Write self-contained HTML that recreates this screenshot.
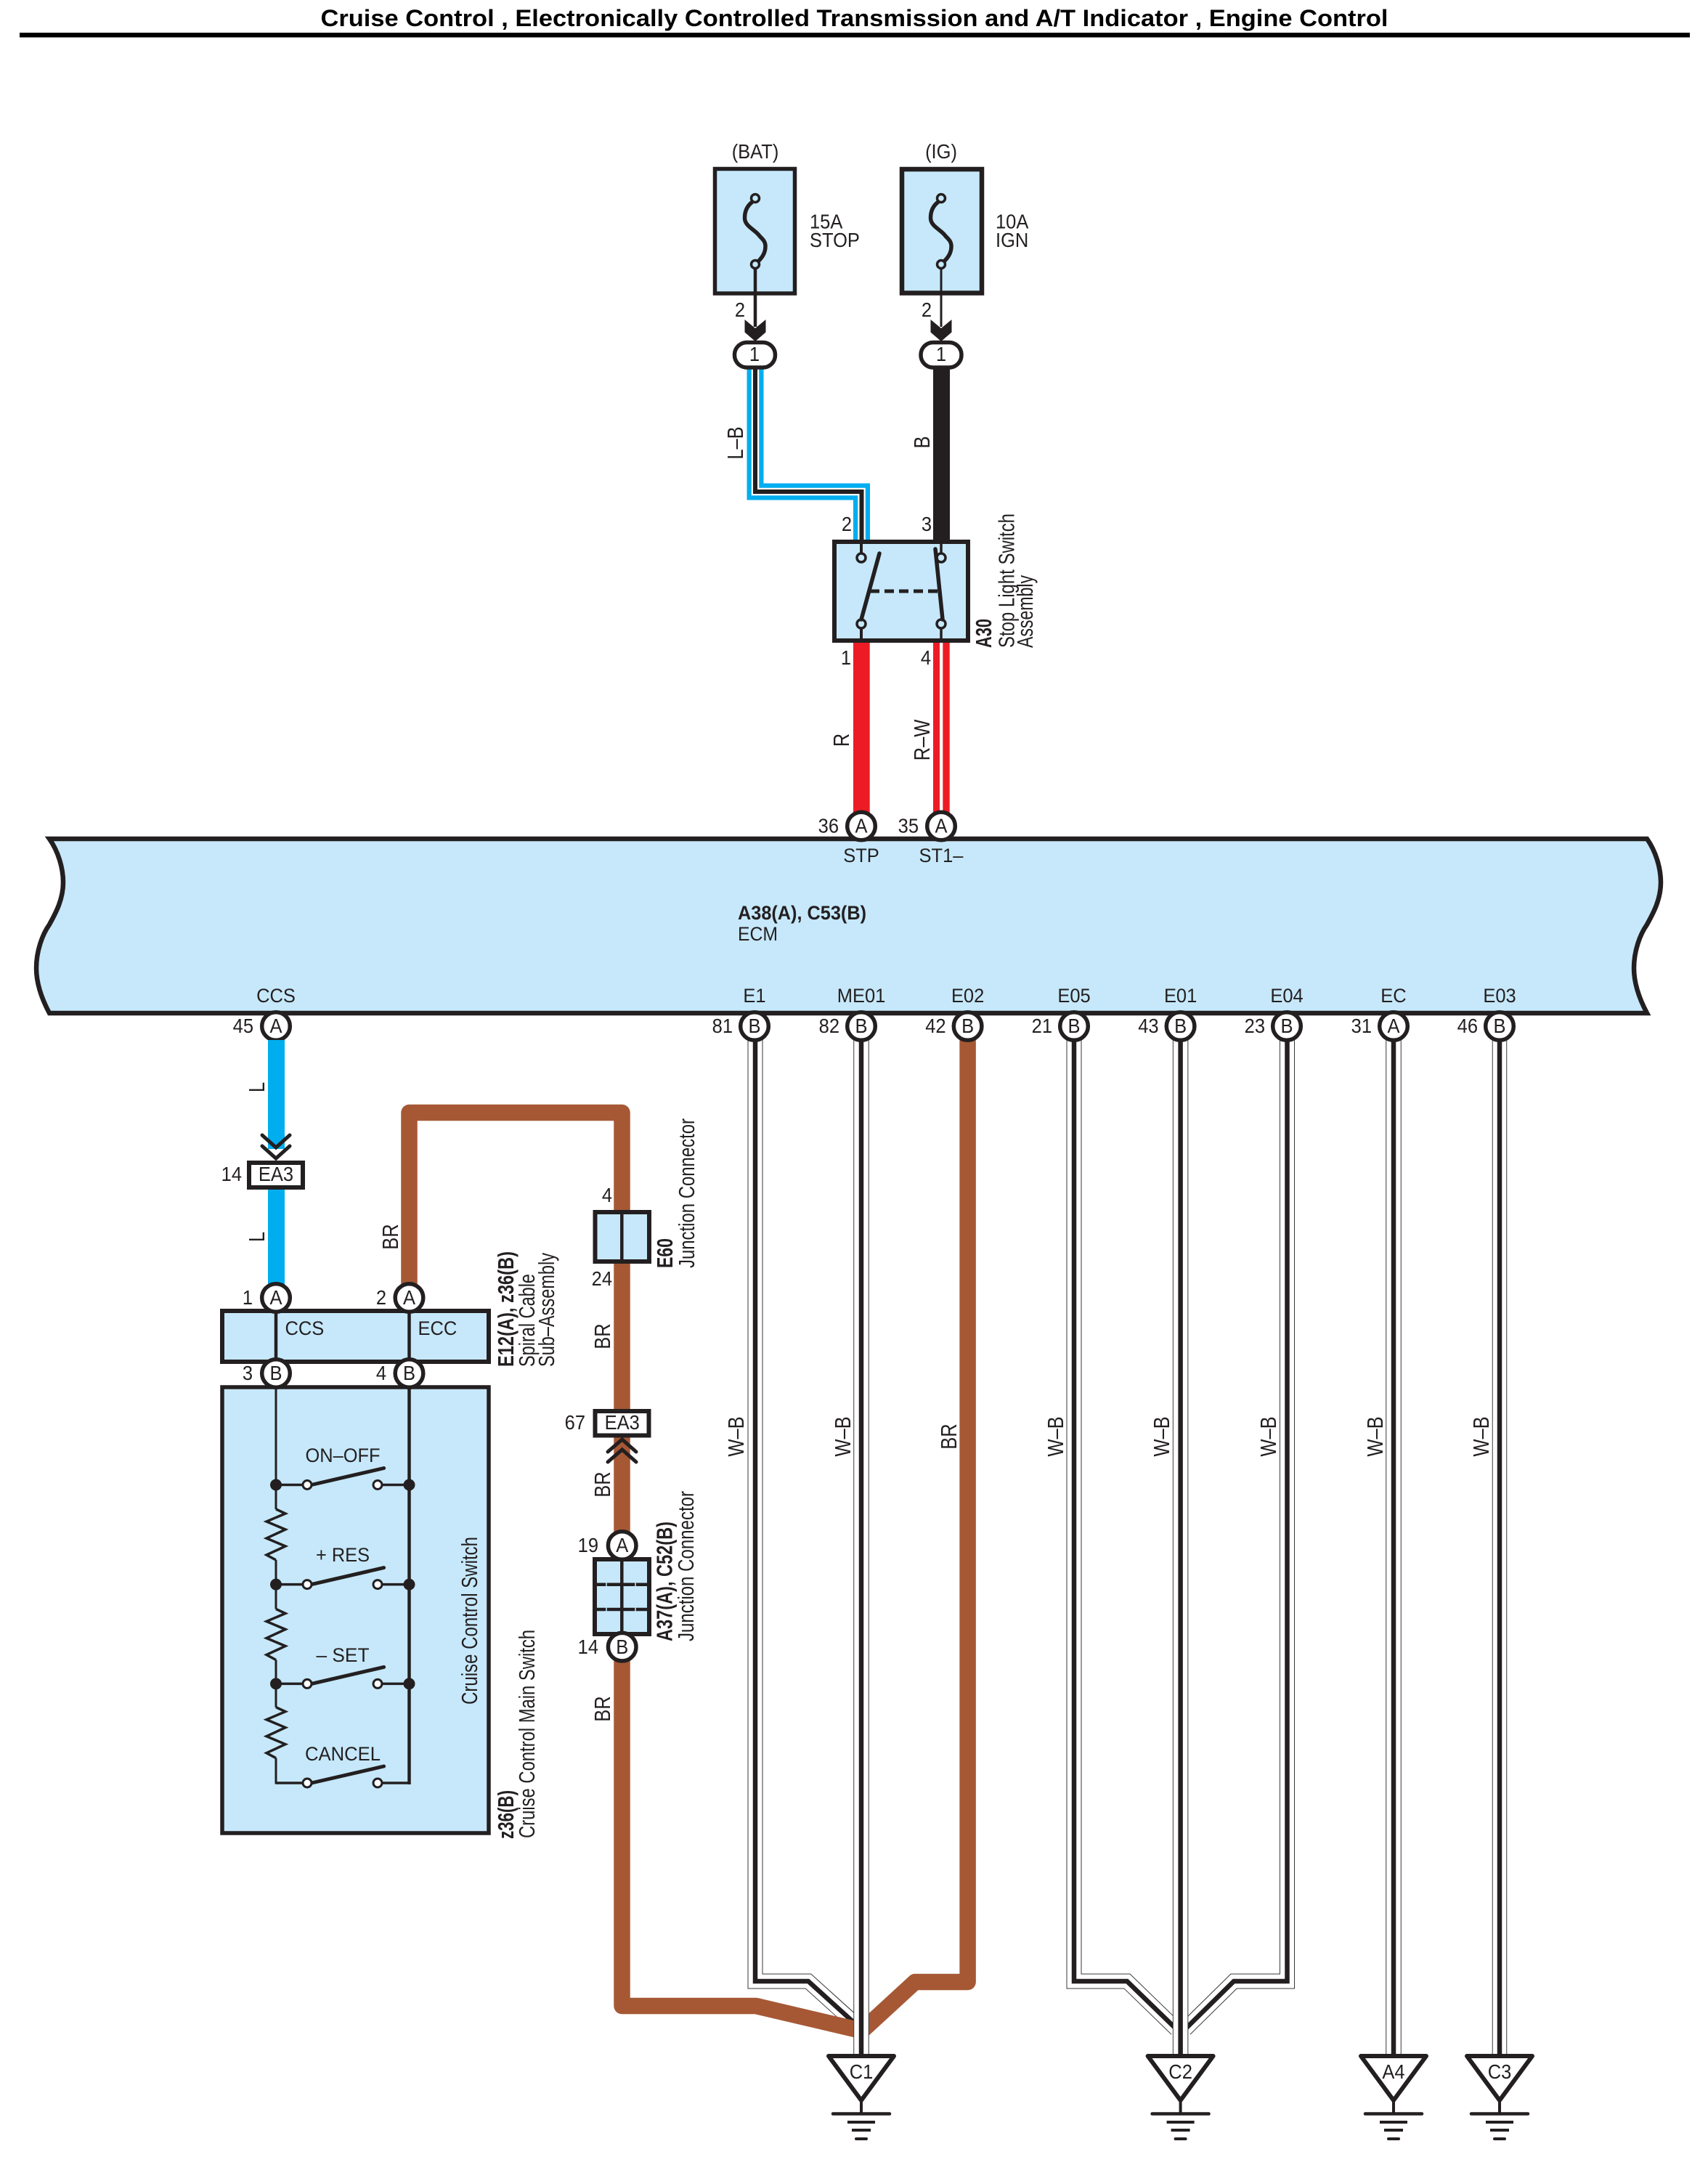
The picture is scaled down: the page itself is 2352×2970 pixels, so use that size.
<!DOCTYPE html>
<html>
<head>
<meta charset="utf-8">
<style>
html,body{margin:0;padding:0;background:#fff}
svg{display:block}
text{font-family:"Liberation Sans",sans-serif;font-size:25.5px;fill:#231f20}
.m{text-anchor:middle}
.e{text-anchor:end}
.b{font-weight:bold}
</style>
</head>
<body>
<svg xmlns="http://www.w3.org/2000/svg" width="2352" height="2970" viewBox="0 0 2352 2970">
<defs>
<g id="gnd" fill="none" stroke="#231f20">
<path d="M-45,2831 H45 L0,2892 Z" fill="#fff" stroke-width="6" stroke-linejoin="round"/>
<path d="M0,2893 V2910" stroke-width="4"/>
<path d="M-39,2910.5 H39" stroke-width="4.5" stroke-linecap="round"/>
<path d="M-19,2922 H19" stroke-width="4"/>
<path d="M-13,2933 H13" stroke-width="4"/>
<path d="M-7,2945 H7" stroke-width="4" stroke-linecap="round"/>
</g>
<g id="res"><polyline points="380,0 393,6 367,17 393,28 367,40 393,51 367,63 380,70" fill="none" stroke="#231f20" stroke-width="3.5"/></g>
<g id="sw">
<path d="M380,0 H417 M526,0 H563" stroke="#231f20" stroke-width="3.5" fill="none"/>
<path d="M429,0 L528.6,-23" stroke="#231f20" stroke-width="5" fill="none" stroke-linecap="round"/>
<circle cx="423" cy="0" r="6" fill="#fff" stroke="#231f20" stroke-width="3"/>
<circle cx="520" cy="0" r="6" fill="#fff" stroke="#231f20" stroke-width="3"/>
</g>
<g id="fuse">
<path d="M0,278 C-8,284 -10.5,292 -10.5,300 C-10.5,312 4,316 10,325 C15,330 18,333 18,339 C18,348 14,354 8,360" fill="none" stroke="#231f20" stroke-width="5.5" transform="translate(-4,0)"/>
<circle cx="0" cy="273" r="5.5" fill="#c6e8fa" stroke="#231f20" stroke-width="3.5"/>
<circle cx="0" cy="364" r="5.5" fill="#c6e8fa" stroke="#231f20" stroke-width="3.5"/>
</g>
<g id="chev"><path d="M-14.5,440 L0,452 L14.5,440 V457.5 L0,470 L-14.5,457.5 Z" fill="#231f20"/></g>
</defs>

<!-- Title -->
<text x="441.5" y="36" class="b" style="font-size:32px;fill:#000" textLength="1470" lengthAdjust="spacingAndGlyphs">Cruise Control , Electronically Controlled Transmission and A/T Indicator , Engine Control</text>
<rect x="27" y="45" width="2300" height="6.5" fill="#000"/>

<!-- Fuses -->
<text transform="translate(1040,218) scale(1,1.08)" class="m">(BAT)</text>
<text transform="translate(1296,218) scale(1,1.08)" class="m">(IG)</text>
<rect x="984.5" y="232.5" width="110" height="171.5" fill="#c6e8fa" stroke="#231f20" stroke-width="5.5"/>
<rect x="1242" y="233" width="110" height="170.5" fill="#c6e8fa" stroke="#231f20" stroke-width="6.5"/>
<path d="M1040,364 V450" stroke="#231f20" stroke-width="4.5"/>
<path d="M1296,364 V450" stroke="#231f20" stroke-width="3"/>
<use href="#fuse" x="1040"/>
<use href="#fuse" x="1296"/>
<text transform="translate(1115,314.5) scale(1,1.08)">15A</text>
<text transform="translate(1115,340) scale(1,1.08)">STOP</text>
<text transform="translate(1371,314.5) scale(1,1.08)">10A</text>
<text transform="translate(1371,340) scale(1,1.08)">IGN</text>
<text transform="translate(1019,436) scale(1,1.08)" class="m">2</text>
<text transform="translate(1276,436) scale(1,1.08)" class="m">2</text>
<use href="#chev" x="1040"/>
<use href="#chev" x="1296"/>

<!-- L-B wire -->
<path d="M1040,506 V677 H1186.5 V746" fill="none" stroke="#00aeef" stroke-width="23"/>
<path d="M1040,506 V677 H1186.5 V746" fill="none" stroke="#fff" stroke-width="10.5"/>
<path d="M1040,506 V677 H1186.5 V746" fill="none" stroke="#231f20" stroke-width="6"/>
<!-- B wire -->
<rect x="1285" y="506" width="23" height="240" fill="#231f20"/>
<rect x="1011.5" y="471.5" width="56" height="34.5" rx="17" fill="#fff" stroke="#231f20" stroke-width="5.5"/>
<rect x="1268" y="471.5" width="56" height="34.5" rx="17" fill="#fff" stroke="#231f20" stroke-width="5.5"/>
<text transform="translate(1039,497) scale(1,1.08)" class="m">1</text>
<text transform="translate(1296,497) scale(1,1.08)" class="m">1</text>
<text transform="translate(1023,610) rotate(-90) scale(1,1.2)" class="m">L–B</text>
<text transform="translate(1280,609) rotate(-90) scale(1,1.2)" class="m">B</text>
<text transform="translate(1166,731) scale(1,1.08)" class="m">2</text>
<text transform="translate(1276,731) scale(1,1.08)" class="m">3</text>

<!-- Red wires -->
<rect x="1175" y="884" width="22.7" height="236" fill="#ed1c24"/>
<rect x="1285" y="884" width="22.7" height="236" fill="#ed1c24"/>
<rect x="1294" y="884" width="4.3" height="236" fill="#fff"/>

<!-- Stop light switch -->
<rect x="1149" y="746" width="184" height="136" fill="#c6e8fa" stroke="#231f20" stroke-width="6"/>
<path d="M1186,743 V762 M1186,866 V885" stroke="#231f20" stroke-width="4" fill="none"/>
<path d="M1296,743 V762 M1296,866 V885" stroke="#231f20" stroke-width="3.5" fill="none"/>
<circle cx="1186" cy="768" r="6" fill="#c6e8fa" stroke="#231f20" stroke-width="3.5"/>
<circle cx="1296" cy="768" r="6" fill="#c6e8fa" stroke="#231f20" stroke-width="3.5"/>
<circle cx="1186" cy="859" r="6" fill="#c6e8fa" stroke="#231f20" stroke-width="3.5"/>
<circle cx="1296" cy="859" r="6" fill="#c6e8fa" stroke="#231f20" stroke-width="3.5"/>
<path d="M1186,853 L1211,762" stroke="#231f20" stroke-width="5.5" stroke-linecap="round" fill="none"/>
<path d="M1298,853 L1288,756" stroke="#231f20" stroke-width="5.5" stroke-linecap="round" fill="none"/>
<path d="M1198,814 H1291" stroke="#231f20" stroke-width="5" stroke-dasharray="13,7" fill="none"/>
<text transform="translate(1365,892) rotate(-90) scale(1,1.2)" class="b" textLength="40" lengthAdjust="spacingAndGlyphs">A30</text>
<text transform="translate(1396.5,892) rotate(-90) scale(1,1.2)" textLength="185" lengthAdjust="spacingAndGlyphs">Stop Light Switch</text>
<text transform="translate(1422,892) rotate(-90) scale(1,1.2)" textLength="100" lengthAdjust="spacingAndGlyphs">Assembly</text>
<text transform="translate(1165,915) scale(1,1.08)" class="m">1</text>
<text transform="translate(1275,915) scale(1,1.08)" class="m">4</text>
<text transform="translate(1169,1019) rotate(-90) scale(1,1.2)" class="m">R</text>
<text transform="translate(1280,1019) rotate(-90) scale(1,1.2)" class="m">R–W</text>

<!-- ECM -->
<path d="M68,1155 H2268 C2280,1172 2287,1195 2287,1215 C2287,1240 2275,1260 2268,1273 C2258,1287 2250,1310 2250,1333 C2250,1358 2260,1380 2268,1395 H68 C60,1380 50,1358 50,1333 C50,1310 58,1287 68,1273 C75,1260 87,1240 87,1215 C87,1195 80,1172 68,1155 Z" fill="#c6e8fa" stroke="#231f20" stroke-width="6.5" stroke-linejoin="miter"/>
<text transform="translate(1016,1266) scale(1,1.05)" class="b" textLength="177" lengthAdjust="spacingAndGlyphs">A38(A), C53(B)</text>
<text transform="translate(1016,1295) scale(1,1.05)" textLength="55" lengthAdjust="spacingAndGlyphs">ECM</text>
<text transform="translate(1186,1187) scale(1,1.05)" class="m">STP</text>
<text transform="translate(1296,1187) scale(1,1.05)" class="m">ST1–</text>
<text transform="translate(380,1380) scale(1,1.05)" class="m">CCS</text>
<text transform="translate(1039,1380) scale(1,1.05)" class="m">E1</text>
<text transform="translate(1186,1380) scale(1,1.05)" class="m">ME01</text>
<text transform="translate(1332.6,1380) scale(1,1.05)" class="m">E02</text>
<text transform="translate(1479,1380) scale(1,1.05)" class="m">E05</text>
<text transform="translate(1625.6,1380) scale(1,1.05)" class="m">E01</text>
<text transform="translate(1772,1380) scale(1,1.05)" class="m">E04</text>
<text transform="translate(1919,1380) scale(1,1.05)" class="m">EC</text>
<text transform="translate(2065,1380) scale(1,1.05)" class="m">E03</text>

<!-- Ground wires (under brown) -->
<g fill="none" stroke-linejoin="miter">
<path d="M1040,1420 V2728 H1113 L1174,2783" stroke="#3a3a3a" stroke-width="21"/>
<path d="M1040,1420 V2728 H1113 L1176,2785" stroke="#fff" stroke-width="19"/>
<path d="M1040,1420 V2728 H1113 L1176,2785" stroke="#231f20" stroke-width="6.5"/>

<path d="M1479,1420 V2728 H1552 L1620,2794" stroke="#3a3a3a" stroke-width="21"/>
<path d="M1479,1420 V2728 H1552 L1620,2794" stroke="#fff" stroke-width="19"/>
<path d="M1479,1420 V2728 H1552 L1620,2794" stroke="#231f20" stroke-width="6.5"/>

<path d="M1772.5,1420 V2728 H1699 L1632,2794" stroke="#3a3a3a" stroke-width="21"/>
<path d="M1772.5,1420 V2728 H1699 L1632,2794" stroke="#fff" stroke-width="19"/>
<path d="M1772.5,1420 V2728 H1699 L1632,2794" stroke="#231f20" stroke-width="6.5"/>
</g>

<!-- Brown wires -->
<g fill="none" stroke="#a65835" stroke-width="22.5" stroke-linejoin="round">
<path d="M1332.6,1430 V2729 H1260 L1186,2797"/>
<path d="M563.5,1770 V1532 H856.5 V1668"/>
<path d="M856.5,1740 V1942"/>
<path d="M856.5,1978 V2110"/>
<path d="M856.5,2286 V2762 H1041 L1186,2796"/>
</g>
<g fill="none" stroke-linejoin="miter">
<path d="M1186,1420 V2830" stroke="#3a3a3a" stroke-width="21.5"/>
<path d="M1186,1420 V2830" stroke="#fff" stroke-width="19.5"/>
<path d="M1186,1420 V2830" stroke="#231f20" stroke-width="6.5"/>
<path d="M1625.6,1420 V2830" stroke="#3a3a3a" stroke-width="21.5"/>
<path d="M1625.6,1420 V2830" stroke="#fff" stroke-width="19.5"/>
<path d="M1625.6,1420 V2830" stroke="#231f20" stroke-width="6.5"/>
<path d="M1919,1420 V2830" stroke="#3a3a3a" stroke-width="21.5"/>
<path d="M1919,1420 V2830" stroke="#fff" stroke-width="19.5"/>
<path d="M1919,1420 V2830" stroke="#231f20" stroke-width="6.5"/>
<path d="M2065,1420 V2830" stroke="#3a3a3a" stroke-width="20.5"/>
<path d="M2065,1420 V2830" stroke="#fff" stroke-width="18.5"/>
<path d="M2065,1420 V2830" stroke="#231f20" stroke-width="6.5"/>
</g>

<!-- Grounds -->
<use href="#gnd" x="1186"/>
<use href="#gnd" x="1625.6"/>
<use href="#gnd" x="1919"/>
<use href="#gnd" x="2065"/>
<text transform="translate(1186,2862) scale(1,1.08)" class="m">C1</text>
<text transform="translate(1625.6,2862) scale(1,1.08)" class="m">C2</text>
<text transform="translate(1919,2862) scale(1,1.08)" class="m">A4</text>
<text transform="translate(2065,2862) scale(1,1.08)" class="m">C3</text>

<!-- Connector circles on ECM -->
<g fill="#fff" stroke="#231f20" stroke-width="5.5">
<circle cx="1186" cy="1137.5" r="19.3"/>
<circle cx="1296" cy="1137.5" r="19.3"/>
<circle cx="380" cy="1413" r="19.3"/>
<circle cx="1039" cy="1413" r="19.3"/>
<circle cx="1186" cy="1413" r="19.3"/>
<circle cx="1332.6" cy="1413" r="19.3"/>
<circle cx="1479" cy="1413" r="19.3"/>
<circle cx="1625.6" cy="1413" r="19.3"/>
<circle cx="1772" cy="1413" r="19.3"/>
<circle cx="1919" cy="1413" r="19.3"/>
<circle cx="2065" cy="1413" r="19.3"/>
</g>
<text transform="translate(1186,1146.5) scale(1,1.08)" class="m">A</text>
<text transform="translate(1296,1146.5) scale(1,1.08)" class="m">A</text>
<text transform="translate(1155,1146.5) scale(1,1.08)" class="e">36</text>
<text transform="translate(1265,1146.5) scale(1,1.08)" class="e">35</text>
<text transform="translate(380,1422) scale(1,1.08)" class="m">A</text>
<text transform="translate(1039,1422) scale(1,1.08)" class="m">B</text>
<text transform="translate(1186,1422) scale(1,1.08)" class="m">B</text>
<text transform="translate(1332.6,1422) scale(1,1.08)" class="m">B</text>
<text transform="translate(1479,1422) scale(1,1.08)" class="m">B</text>
<text transform="translate(1625.6,1422) scale(1,1.08)" class="m">B</text>
<text transform="translate(1772,1422) scale(1,1.08)" class="m">B</text>
<text transform="translate(1919,1422) scale(1,1.08)" class="m">A</text>
<text transform="translate(2065,1422) scale(1,1.08)" class="m">B</text>
<text transform="translate(349,1422) scale(1,1.08)" class="e">45</text>
<text transform="translate(1009,1422) scale(1,1.08)" class="e">81</text>
<text transform="translate(1156,1422) scale(1,1.08)" class="e">82</text>
<text transform="translate(1302.6,1422) scale(1,1.08)" class="e">42</text>
<text transform="translate(1449,1422) scale(1,1.08)" class="e">21</text>
<text transform="translate(1595.6,1422) scale(1,1.08)" class="e">43</text>
<text transform="translate(1742,1422) scale(1,1.08)" class="e">23</text>
<text transform="translate(1889,1422) scale(1,1.08)" class="e">31</text>
<text transform="translate(2035,1422) scale(1,1.08)" class="e">46</text>

<!-- W-B labels -->
<text transform="translate(1024,1978) rotate(-90) scale(1,1.2)" class="m">W–B</text>
<text transform="translate(1171,1978) rotate(-90) scale(1,1.2)" class="m">W–B</text>
<text transform="translate(1317,1978) rotate(-90) scale(1,1.2)" class="m">BR</text>
<text transform="translate(1464,1978) rotate(-90) scale(1,1.2)" class="m">W–B</text>
<text transform="translate(1610,1978) rotate(-90) scale(1,1.2)" class="m">W–B</text>
<text transform="translate(1757,1978) rotate(-90) scale(1,1.2)" class="m">W–B</text>
<text transform="translate(1904,1978) rotate(-90) scale(1,1.2)" class="m">W–B</text>
<text transform="translate(2050,1978) rotate(-90) scale(1,1.2)" class="m">W–B</text>

<!-- L wire -->
<rect x="369" y="1432" width="23" height="150" fill="#00aeef"/>
<rect x="369" y="1636" width="23" height="134" fill="#00aeef"/>
<path d="M361,1563 L380,1580 L399,1563 M361,1578 L380,1595 L399,1578" fill="none" stroke="#231f20" stroke-width="5" stroke-linecap="round"/>
<rect x="343" y="1601" width="74" height="34" fill="#fff" stroke="#231f20" stroke-width="6"/>
<text transform="translate(380,1626) scale(1,1.08)" class="m">EA3</text>
<text transform="translate(333,1626) scale(1,1.08)" class="e">14</text>
<text transform="translate(364,1497) rotate(-90) scale(1,1.2)" class="m">L</text>
<text transform="translate(364,1703) rotate(-90) scale(1,1.2)" class="m">L</text>
<text transform="translate(548,1703) rotate(-90) scale(1,1.2)" class="m">BR</text>

<!-- Spiral cable -->
<rect x="306" y="1805" width="367" height="70" fill="#c6e8fa" stroke="#231f20" stroke-width="6"/>
<path d="M380,1805 V1875 M563.5,1805 V1875" stroke="#231f20" stroke-width="4.5" fill="none"/>
<text transform="translate(392.5,1838) scale(1,1.05)">CCS</text>
<text transform="translate(575.5,1838) scale(1,1.05)">ECC</text>
<rect x="306" y="1910" width="367" height="614" fill="#c6e8fa" stroke="#231f20" stroke-width="5.5"/>
<g fill="#fff" stroke="#231f20" stroke-width="5.5">
<circle cx="380" cy="1787" r="19.3"/>
<circle cx="563.5" cy="1787" r="19.3"/>
<circle cx="380" cy="1891" r="19.3"/>
<circle cx="563.5" cy="1891" r="19.3"/>
</g>
<text transform="translate(380,1796) scale(1,1.08)" class="m">A</text>
<text transform="translate(563.5,1796) scale(1,1.08)" class="m">A</text>
<text transform="translate(380,1900) scale(1,1.08)" class="m">B</text>
<text transform="translate(563.5,1900) scale(1,1.08)" class="m">B</text>
<text transform="translate(348,1796) scale(1,1.08)" class="e">1</text>
<text transform="translate(532,1796) scale(1,1.08)" class="e">2</text>
<text transform="translate(348,1900) scale(1,1.08)" class="e">3</text>
<text transform="translate(532,1900) scale(1,1.08)" class="e">4</text>
<text transform="translate(707,1882) rotate(-90) scale(1,1.2)" class="b" textLength="159" lengthAdjust="spacingAndGlyphs">E12(A), z36(B)</text>
<text transform="translate(736,1882) rotate(-90) scale(1,1.2)" textLength="128" lengthAdjust="spacingAndGlyphs">Spiral Cable</text>
<text transform="translate(763,1882) rotate(-90) scale(1,1.2)" textLength="157" lengthAdjust="spacingAndGlyphs">Sub–Assembly</text>

<!-- Switch internals -->
<path d="M380,1908 V2078 M380,2148 V2215.5 M380,2285.5 V2350.7 M380,2420.7 V2455 H381" stroke="#231f20" stroke-width="3" fill="none"/>
<path d="M563.5,1908 V2457" stroke="#231f20" stroke-width="4.5" fill="none"/>
<use href="#res" y="2078"/>
<use href="#res" y="2215.5"/>
<use href="#res" y="2350.7"/>
<use href="#sw" y="2044.5"/>
<use href="#sw" y="2181.6"/>
<use href="#sw" y="2318.4"/>
<use href="#sw" y="2455"/>
<g fill="#231f20">
<circle cx="380" cy="2044.5" r="8"/>
<circle cx="563.5" cy="2044.5" r="8"/>
<circle cx="380" cy="2181.6" r="8"/>
<circle cx="563.5" cy="2181.6" r="8"/>
<circle cx="380" cy="2318.4" r="8"/>
<circle cx="563.5" cy="2318.4" r="8"/>
</g>
<text transform="translate(472,2013) scale(1,1.05)" class="m" textLength="103" lengthAdjust="spacingAndGlyphs">ON–OFF</text>
<text transform="translate(472,2150) scale(1,1.05)" class="m" textLength="74" lengthAdjust="spacingAndGlyphs">+ RES</text>
<text transform="translate(472,2288) scale(1,1.05)" class="m" textLength="73" lengthAdjust="spacingAndGlyphs">– SET</text>
<text transform="translate(472,2424) scale(1,1.05)" class="m" textLength="104" lengthAdjust="spacingAndGlyphs">CANCEL</text>
<text transform="translate(657,2347) rotate(-90) scale(1,1.2)" textLength="231" lengthAdjust="spacingAndGlyphs">Cruise Control Switch</text>
<text transform="translate(707,2532) rotate(-90) scale(1,1.2)" class="b" textLength="67" lengthAdjust="spacingAndGlyphs">z36(B)</text>
<text transform="translate(736,2531) rotate(-90) scale(1,1.2)" textLength="287" lengthAdjust="spacingAndGlyphs">Cruise Control Main Switch</text>

<!-- E60 -->
<rect x="819.5" y="1669" width="74.5" height="68" fill="#c6e8fa" stroke="#231f20" stroke-width="6"/>
<path d="M856.3,1669 V1737" stroke="#231f20" stroke-width="4.5"/>
<text transform="translate(843,1655) scale(1,1.08)" class="e">4</text>
<text transform="translate(843,1770) scale(1,1.08)" class="e">24</text>
<text transform="translate(926,1746) rotate(-90) scale(1,1.2)" class="b" textLength="41" lengthAdjust="spacingAndGlyphs">E60</text>
<text transform="translate(956,1746) rotate(-90) scale(1,1.2)" textLength="206" lengthAdjust="spacingAndGlyphs">Junction Connector</text>
<text transform="translate(840,1840) rotate(-90) scale(1,1.2)" class="m">BR</text>

<!-- EA3 67 -->
<rect x="819.5" y="1943" width="74" height="33.5" fill="#fff" stroke="#231f20" stroke-width="6"/>
<text transform="translate(856.7,1968) scale(1,1.08)" class="m">EA3</text>
<text transform="translate(806,1968) scale(1,1.08)" class="e">67</text>
<path d="M837,1999 L856.7,1982 L876,1999 M837,2013 L856.7,1996 L876,2013" fill="none" stroke="#231f20" stroke-width="5" stroke-linecap="round"/>
<text transform="translate(840,2044) rotate(-90) scale(1,1.2)" class="m">BR</text>

<!-- A37 junction -->
<rect x="819" y="2147" width="75" height="103" fill="#c6e8fa" stroke="#231f20" stroke-width="6"/>
<path d="M856.3,2147 V2250" stroke="#231f20" stroke-width="4.5"/>
<path d="M822,2181.7 H891 M822,2216 H891" stroke="#231f20" stroke-width="4.5" fill="none"/>
<path d="M835,2179 V2184.5 M875,2179 V2184.5 M835,2213.5 V2218.5 M875,2213.5 V2218.5" stroke="#c6e8fa" stroke-width="1.5" fill="none"/>
<circle cx="856.7" cy="2128" r="19.3" fill="#fff" stroke="#231f20" stroke-width="5.5"/>
<circle cx="856.7" cy="2267.7" r="19.3" fill="#fff" stroke="#231f20" stroke-width="5.5"/>
<text transform="translate(856.7,2137) scale(1,1.08)" class="m">A</text>
<text transform="translate(856.7,2277) scale(1,1.08)" class="m">B</text>
<text transform="translate(824,2137) scale(1,1.08)" class="e">19</text>
<text transform="translate(824,2277) scale(1,1.08)" class="e">14</text>
<text transform="translate(925.7,2260) rotate(-90) scale(1,1.2)" class="b" textLength="165" lengthAdjust="spacingAndGlyphs">A37(A), C52(B)</text>
<text transform="translate(955,2260) rotate(-90) scale(1,1.2)" textLength="207" lengthAdjust="spacingAndGlyphs">Junction Connector</text>
<text transform="translate(840,2353) rotate(-90) scale(1,1.2)" class="m">BR</text>
</svg>
</body>
</html>
